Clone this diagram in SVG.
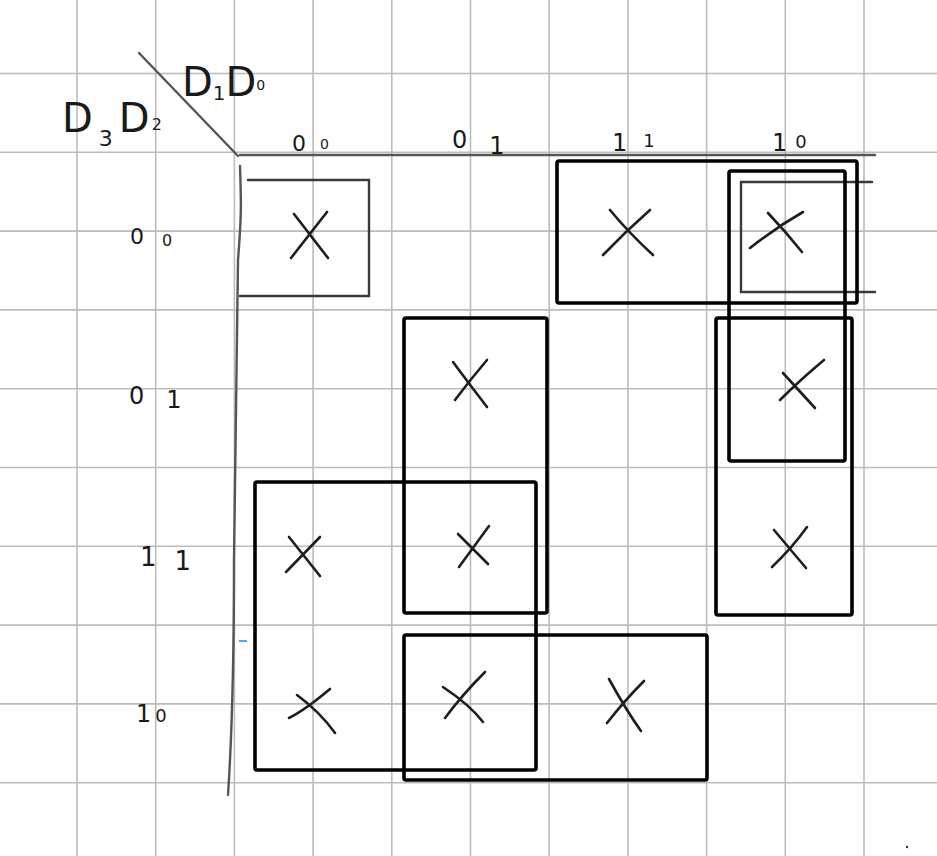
<svg xmlns="http://www.w3.org/2000/svg" width="937" height="856" viewBox="0 0 937 856">
<style>
.g{stroke:#bcbcbc;stroke-width:1.6;fill:none}
.ax{stroke:#555;stroke-width:2.4;fill:none;stroke-linecap:round}
.x{stroke:#1e1e1e;stroke-width:2.6;fill:none;stroke-linecap:round}
.r{stroke:#000;stroke-width:3.6;fill:none;stroke-linejoin:round}
.rt{stroke:#3a3a3a;stroke-width:2.4;fill:none;stroke-linecap:round}
.t{font-family:"DejaVu Sans","Liberation Sans",sans-serif;fill:#1a1a1a;font-weight:400}
</style>
<rect width="937" height="856" fill="#fff"/>
<g id="grid" class="g">
<path d="M77 0V856M155.7 0V856M234.4 0V856M313.1 0V856M391.8 0V856M470.5 0V856M549.2 0V856M627.9 0V856M706.6 0V856M785.3 0V856M864 0V856"/>
<path d="M0 73.5H937M0 152.3H937M0 231.1H937M0 309.9H937M0 388.7H937M0 467.5H937M0 546.3H937M0 625.1H937M0 703.9H937M0 782.7H937"/>
</g>
<g id="axes">
<path class="ax" d="M139 53L238 156"/>
<path class="ax" d="M240 155H875"/>
<path class="ax" d="M240 166C241 200 242 210 238 260C236 350 235 450 234 560C234 650 233 720 228 795"/>
<path d="M239 641H247" stroke="#4aa8ff" stroke-width="2"/>
<circle cx="907" cy="847" r="1.2" fill="#333"/>
</g>
<g id="labels" class="t">
<text x="182" y="96" font-size="40">D<tspan font-size="20" dy="4">1</tspan><tspan dy="-4">D</tspan><tspan font-size="14" dy="-6">0</tspan></text>
<text x="62" y="132" font-size="40">D<tspan font-size="22" dx="6" dy="14">3</tspan><tspan dx="6" dy="-14">D</tspan><tspan font-size="16" dx="2" dy="-2">2</tspan></text>
<text x="292" y="151" font-size="22">0<tspan font-size="14" dx="14" dy="-2">0</tspan></text>
<text x="452" y="148" font-size="24">0<tspan dx="22" dy="6">1</tspan></text>
<text x="612" y="151" font-size="24">1<tspan font-size="18" dx="16" dy="-4">1</tspan></text>
<text x="772" y="151" font-size="24">1<tspan font-size="18" dx="8" dy="-3">0</tspan></text>
<text x="130" y="244" font-size="22">0<tspan font-size="16" dx="18" dy="2">0</tspan></text>
<text x="129" y="404" font-size="24">0<tspan dx="22" dy="4">1</tspan></text>
<text x="140" y="566" font-size="26">1<tspan dx="18" dy="4">1</tspan></text>
<text x="136" y="722" font-size="24">1<tspan font-size="18" dx="4">0</tspan></text>
</g>
<g id="marks" class="x">
<path d="M294 214L328 258M327 212L291 258"/>
<path d="M610 210Q628 232 653 255M650 210Q625 232 603 255"/>
<path d="M768 213Q786 232 802 252M803 212Q775 228 750 248"/>
<path d="M453 362Q470 385 487 407M487 360Q470 380 455 400"/>
<path d="M783 373L815 408M824 360Q800 380 780 400"/>
<path d="M289 537L320 576M320 537L286 572"/>
<path d="M458 534L488 564M489 526L459 567"/>
<path d="M774 530L806 568M807 527Q792 548 772 567"/>
<path d="M297 695Q320 712 335 733M330 689Q305 710 289 718"/>
<path d="M443 687Q470 705 483 722M485 672Q462 695 445 718"/>
<path d="M609 679Q626 710 641 731M644 681Q625 700 607 723"/>
</g>
<g id="groups">
<path class="rt" d="M248 180H369V296H240"/>
<path class="rt" d="M872 182H741V292H875"/>
<rect class="r" x="557" y="161" width="300" height="142" rx="2"/>
<rect class="r" x="729" y="171" width="116" height="290" rx="2"/>
<rect class="r" x="404" y="318" width="143" height="295" rx="2"/>
<rect class="r" x="716" y="318" width="136" height="297" rx="2"/>
<rect class="r" x="255" y="482" width="281" height="288" rx="2"/>
<rect class="r" x="404" y="635" width="303" height="145" rx="2"/>
</g>
</svg>
